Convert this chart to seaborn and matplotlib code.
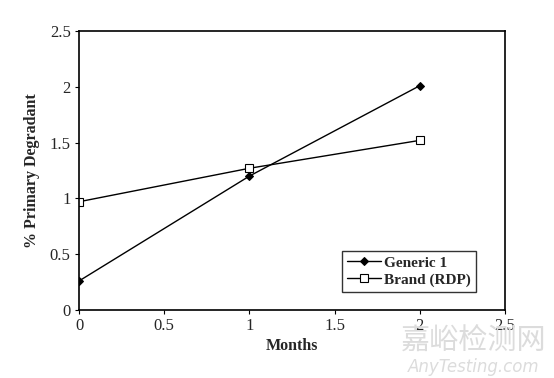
import numpy as np
import pandas as pd
import matplotlib
matplotlib.use("Agg")
import matplotlib.pyplot as plt
import seaborn as sns

# datos
months = [0, 1, 2]
generic_1 = [0.26, 1.20, 2.01]
brand_rdp = [0.97, 1.27, 1.52]
x_ticks = [0, 0.5, 1, 1.5, 2, 2.5]
y_ticks = [0, 0.5, 1, 1.5, 2, 2.5]
tick_labels = ["0", "0.5", "1", "1.5", "2", "2.5"]

sns.set_style("ticks")
plt.rcParams['font.family'] = ['Liberation Serif', 'DejaVu Serif']

fig = plt.figure(figsize=(5.54, 3.78), dpi=100)
ax = fig.add_axes([79 / 554, 1 - 310 / 378, (505 - 79) / 554, (310 - 31) / 378])

sns.lineplot(x=months, y=generic_1, ax=ax, color="black", lw=1,
             marker="D", markersize=4, markerfacecolor="black",
             markeredgecolor="black", label="Generic 1")
sns.lineplot(x=months, y=brand_rdp, ax=ax, color="black", lw=1,
             marker="s", markersize=6, markerfacecolor="white",
             markeredgecolor="black", markeredgewidth=0.8, label="Brand (RDP)")

ax.set_xlim(0, 2.5)
ax.set_ylim(0, 2.5)
ax.set_xticks(x_ticks)
ax.set_xticklabels(tick_labels, fontsize=12)
ax.set_yticks(y_ticks)
ax.set_yticklabels(tick_labels, fontsize=12)
ax.tick_params(direction="out", length=3, width=0.8, color="black", pad=3)
for s in ax.spines.values():
    s.set_visible(True)
    s.set_color("black")
    s.set_linewidth(1.2)

ax.set_xlabel("Months", fontsize=11.5, fontweight="bold", labelpad=3)
ax.set_ylabel("% Primary Degradant", fontsize=11.5, fontweight="bold", labelpad=7)

leg = ax.legend(loc="lower right", bbox_to_anchor=(0.932, 0.065), frameon=True,
                fancybox=False, edgecolor="black", borderaxespad=0,
                prop={"weight": "bold", "size": 11}, handlelength=2.2,
                handletextpad=0.2, borderpad=0.35, labelspacing=0.2)
leg.get_frame().set_linewidth(1)

# marca de agua
fig.text(0.855, 0.075, "嘉峪检测网", fontsize=21, color="#dcdcdc", ha="center",
         family=["Noto Sans CJK SC", "DejaVu Sans"])
fig.text(0.855, 0.015, "AnyTesting.com", fontsize=12, color="#dcdcdc", ha="center",
         style="italic", family=["DejaVu Sans"])

fig.savefig("out.png", dpi=100)
